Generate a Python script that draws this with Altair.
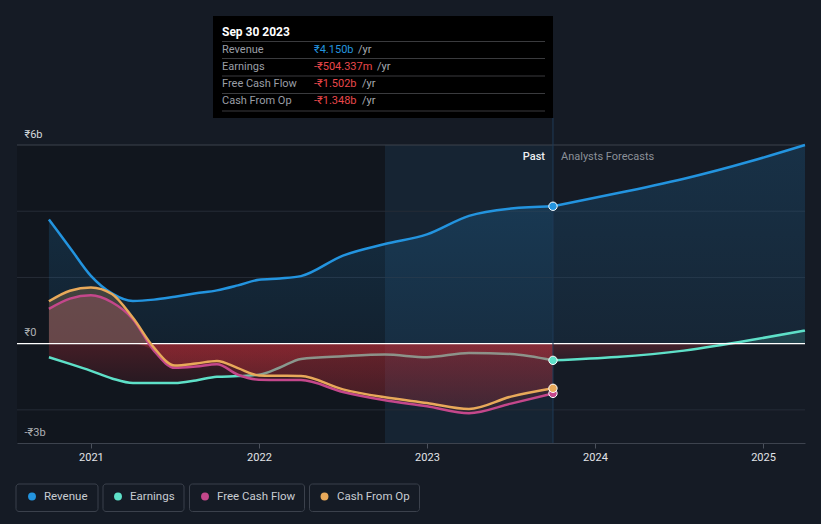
import altair as alt
import pandas as pd

# ---------------- data (values in ₹ billions, time in decimal years) ----------------
past_t = [2020.75, 2020.875, 2021.0, 2021.125, 2021.25, 2021.375, 2021.5, 2021.625,
          2021.75, 2021.875, 2022.0, 2022.125, 2022.25, 2022.5, 2022.75, 2023.0,
          2023.25, 2023.5, 2023.75]
revenue_past = [3.75, 2.90, 2.05, 1.52, 1.29, 1.33, 1.42, 1.52, 1.61, 1.76, 1.93, 1.97,
                2.04, 2.66, 3.01, 3.30, 3.86, 4.08, 4.15]
earnings_past = [-0.41, -0.61, -0.82, -1.05, -1.19, -1.19, -1.19, -1.11, -1.00, -0.98,
                 -0.94, -0.72, -0.46, -0.38, -0.33, -0.41, -0.28, -0.31, -0.504]
fcf_past = [1.05, 1.36, 1.46, 1.25, 0.74, -0.21, -0.73, -0.69, -0.62, -0.94, -1.09,
            -1.10, -1.10, -1.46, -1.71, -1.89, -2.10, -1.81, -1.502]
cfo_past = [1.28, 1.60, 1.70, 1.50, 0.78, -0.12, -0.66, -0.60, -0.52, -0.74, -0.96,
            -0.97, -0.98, -1.38, -1.62, -1.79, -1.97, -1.60, -1.348]

fc_t = [2023.75, 2024.13, 2024.53, 2024.92, 2025.25]
revenue_fc = [4.15, 4.54, 4.98, 5.50, 6.00]
earnings_fc = [-0.504, -0.40, -0.21, 0.10, 0.40]

series_names = ["Revenue", "Earnings", "Free Cash Flow", "Cash From Op"]
series_colors = ["#2394df", "#5ee0c8", "#c4478b", "#e8a95a"]

y_ticks = [6, 0, -3]
grid_values = [-2, 2, 4, 6]
x_ticks = [2021, 2022, 2023, 2024, 2025]
x_domain = [2020.56, 2025.25]
y_domain = [-3, 6]

past_start = 2020.56
highlight_start = 2022.75
now_t = 2023.75

tooltip_date = "Sep 30 2023"
tooltip_values = ["₹4.150b", "-₹504.337m", "-₹1.502b", "-₹1.348b"]
tooltip_value_colors = ["#2394df", "#e8474b", "#e8474b", "#e8474b"]

# ---------------- layout / style ----------------
BG = "#151b25"
FONT = "Roboto"
W, H = 788, 298

XS = alt.Scale(domain=x_domain, nice=False, zero=False)
YS = alt.Scale(domain=y_domain, nice=False, zero=False)

X = alt.X("t:Q", scale=XS,
          axis=alt.Axis(values=x_ticks, format="d", title=None, grid=False,
                        labelColor="#e2e4e8", labelFontSize=11, labelFont=FONT,
                        labelPadding=3, tickColor="#4b515c", tickSize=5,
                        domainColor="#3d434e", labelFlush=False))
Y = alt.Y("v:Q", scale=YS,
          axis=alt.Axis(values=y_ticks, title=None, grid=False, domain=False,
                        ticks=False, tickSize=0, labelAlign="left", labelPadding=-7,
                        labelBaseline="alphabetic", labelOffset=-8,
                        labelColor="#d4d7dc", labelFontSize=11, labelFont=FONT,
                        labelExpr="datum.value == 0 ? '₹0' : (datum.value < 0 ? '-₹' + abs(datum.value) + 'b' : '₹' + datum.value + 'b')"))

color_scale = alt.Scale(domain=series_names, range=series_colors)

# long tables
rows = []
for t, r, e, f, c in zip(past_t, revenue_past, earnings_past, fcf_past, cfo_past):
    rows += [("Revenue", t, r, "past"), ("Earnings", t, e, "past"),
             ("Free Cash Flow", t, f, "past"), ("Cash From Op", t, c, "past")]
for t, r, e in zip(fc_t, revenue_fc, earnings_fc):
    rows += [("Revenue", t, r, "fc"), ("Earnings", t, e, "fc")]
df = pd.DataFrame(rows, columns=["series", "t", "v", "part"])
df["pos"] = df["v"].clip(lower=0)
df["neg"] = df["v"].clip(upper=0)

dummy = pd.DataFrame({"k": [0]})


def grad(c_top, c_bottom):
    return alt.Gradient(gradient="linear", x1=0, x2=0, y1=0, y2=1,
                        stops=[alt.GradientStop(color=c_top, offset=0),
                               alt.GradientStop(color=c_bottom, offset=1)])


def interp(part):
    return "monotone" if part == "past" else "natural"


layers = []

# background regions
regions = pd.DataFrame({"t0": [past_start, highlight_start], "t1": [highlight_start, now_t],
                        "kind": ["past", "last"]})
layers.append(alt.Chart(regions[regions.kind == "past"]).mark_rect(color="#000000", opacity=0.18)
              .encode(x=alt.X("t0:Q", scale=XS), x2="t1:Q"))
layers.append(alt.Chart(regions[regions.kind == "last"]).mark_rect(color="#2394df", opacity=0.08)
              .encode(x=alt.X("t0:Q", scale=XS), x2="t1:Q"))

# grid lines
grid_df = pd.DataFrame({"v": grid_values})
layers.append(alt.Chart(grid_df[grid_df.v != 6]).mark_rule(color="#262c37", strokeWidth=1)
              .encode(y=alt.Y("v:Q", scale=YS)))
layers.append(alt.Chart(grid_df[grid_df.v == 6]).mark_rule(color="#3c424c", strokeWidth=1)
              .encode(y=alt.Y("v:Q", scale=YS)))

red_grad = grad("rgba(200,48,58,0.28)", "rgba(200,48,58,0.12)")

# revenue area
for part in ["past", "fc"]:
    sub = df[(df.series == "Revenue") & (df.part == part)]
    layers.append(alt.Chart(sub).mark_area(
        interpolate=interp(part), fill=grad("rgba(35,148,223,0.18)", "rgba(35,148,223,0.09)"))
        .encode(x=X, y=Y, y2=alt.datum(0)))

# earnings areas
for part in ["past", "fc"]:
    earn = df[(df.series == "Earnings") & (df.part == part)]
    layers.append(alt.Chart(earn).mark_area(interpolate=interp(part), fill=red_grad)
                  .encode(x=X, y=alt.Y("neg:Q", scale=YS), y2=alt.datum(0)))
    layers.append(alt.Chart(earn).mark_area(interpolate=interp(part), fill="rgba(94,224,200,0.16)")
                  .encode(x=X, y=alt.Y("pos:Q", scale=YS), y2=alt.datum(0)))
    # earnings line (under the cash-flow fills)
    layers.append(alt.Chart(earn).mark_line(interpolate=interp(part), strokeWidth=2.5)
                  .encode(x=X, y=Y, color=alt.Color("series:N", scale=color_scale, legend=None)))

# cash-flow areas
for name, pos_fill in [("Cash From Op", "rgba(232,169,90,0.22)"), ("Free Cash Flow", "rgba(214,96,120,0.26)")]:
    sub = df[df.series == name]
    layers.append(alt.Chart(sub).mark_area(interpolate="monotone", fill=pos_fill)
                  .encode(x=X, y=alt.Y("pos:Q", scale=YS), y2=alt.datum(0)))
    layers.append(alt.Chart(sub).mark_area(interpolate="monotone", fill=red_grad)
                  .encode(x=X, y=alt.Y("neg:Q", scale=YS), y2=alt.datum(0)))

# zero line
layers.append(alt.Chart(pd.DataFrame({"v": [0]})).mark_rule(color="#ffffff", strokeWidth=1.2)
              .encode(y=alt.Y("v:Q", scale=YS)))

# other lines
for part in ["past", "fc"]:
    others = df[df.series.isin(["Revenue", "Free Cash Flow", "Cash From Op"]) & (df.part == part)]
    layers.append(alt.Chart(others).mark_line(interpolate=interp(part), strokeWidth=2.5)
                  .encode(x=X, y=Y, color=alt.Color("series:N", scale=color_scale, legend=None),
                          detail="series:N"))

# vertical "now" rule running up to the tooltip
layers.append(alt.Chart(dummy).mark_rule(color="#1f3b57", strokeWidth=1)
              .encode(x=alt.datum(now_t, scale=XS), y=alt.value(-27), y2=alt.value(H)))

# end points
pts = df[(df.t == now_t) & (df.part == "past")]
layers.append(alt.Chart(pts).mark_circle(size=70, opacity=1, stroke="#ffffff", strokeWidth=1)
              .encode(x=X, y=Y, color=alt.Color("series:N", scale=color_scale, legend=None)))


def txt(s, x, y, color, size=11, weight="normal", align="left", baseline="middle"):
    return alt.Chart(dummy).mark_text(text=s, align=align, baseline=baseline, fontSize=size,
                                      font=FONT, color=color, fontWeight=weight).encode(
        x=alt.value(x), y=alt.value(y))


# Past / forecast labels
layers.append(txt("Past", 528, 11.5, "#eceef1", weight=500, align="right"))
layers.append(txt("Analysts Forecasts", 544, 11.5, "#8b9098"))

# tooltip box
layers.append(alt.Chart(dummy).mark_rect(color="#000000")
              .encode(x=alt.value(196), x2=alt.value(536), y=alt.value(-129), y2=alt.value(-27)))
for yy in [-103.5, -86.5, -69, -51.5, -34]:
    layers.append(alt.Chart(dummy).mark_rule(color="#3a3b3e", strokeWidth=1)
                  .encode(x=alt.value(205), x2=alt.value(528), y=alt.value(yy)))
layers.append(txt(tooltip_date, 205, -109, "#ffffff", size=12, weight="bold", baseline="alphabetic"))
row_y = [-95.5, -78.5, -61, -44]
yr_x = [341, 360, 345, 345]
for name, val, vc, yy, yx in zip(series_names, tooltip_values, tooltip_value_colors, row_y, yr_x):
    layers.append(txt(name, 205, yy, "#9a9ea6"))
    layers.append(txt(val, 297, yy, vc))
    layers.append(txt("/yr", yx, yy, "#a8abb1"))

# legend (boxed items)
box_x = [(-1, 81), (86, 167), (172.5, 287.5), (292.5, 402.5)]
dot_x = [15, 101, 188, 307.5]
label_x = [27, 113, 200, 320]
for (x0, x1), dx, lx, name, col in zip(box_x, dot_x, label_x, series_names, series_colors):
    layers.append(alt.Chart(dummy).mark_rect(fill="transparent", stroke="#3b414c", strokeWidth=1,
                                             cornerRadius=3)
                  .encode(x=alt.value(x0), x2=alt.value(x1), y=alt.value(339), y2=alt.value(366.5)))
    layers.append(alt.Chart(dummy).mark_circle(size=62, opacity=1, color=col)
                  .encode(x=alt.value(dx), y=alt.value(351.5)))
    layers.append(txt(name, lx, 352, "#c8ccd2", size=11.5))

chart = alt.layer(*layers).properties(
    width=W, height=H,
    autosize=alt.AutoSizeParams(type="none"),
    padding={"left": 17, "top": 145, "right": 16, "bottom": 81},
).configure(background=BG, font=FONT).configure_view(stroke=None)

chart.save("out.html", embed_options={"renderer": "svg", "actions": False})
